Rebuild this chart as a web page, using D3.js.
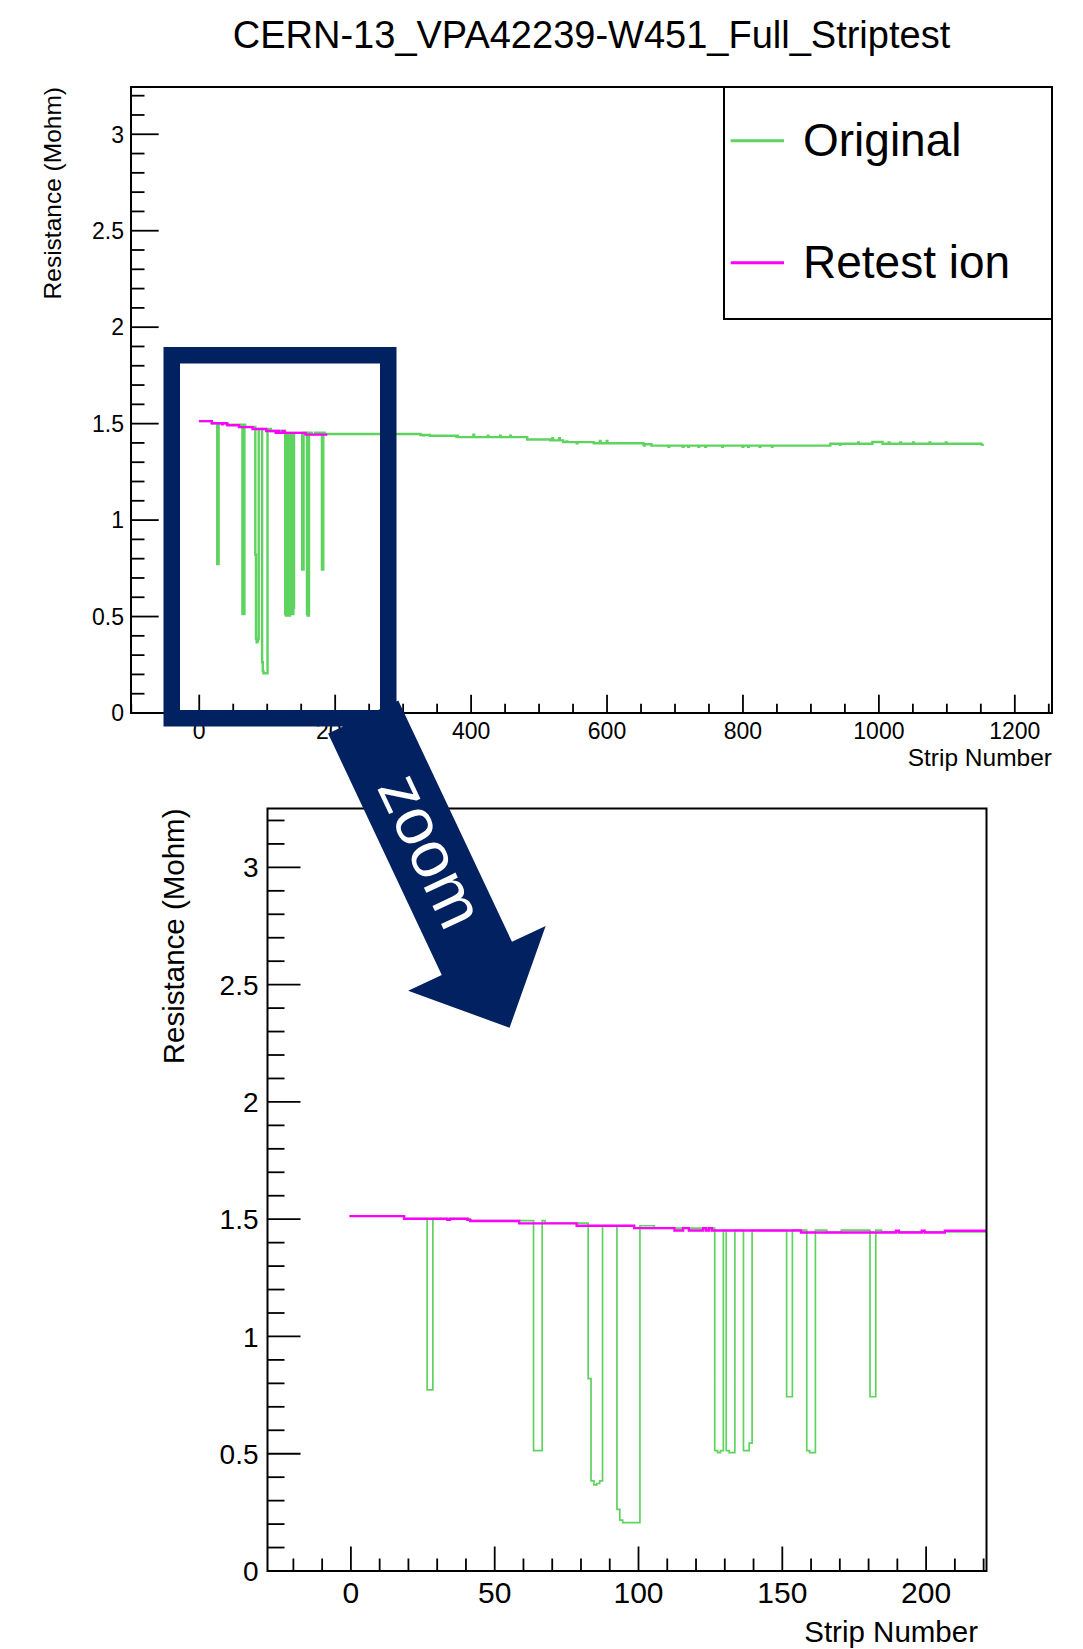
<!DOCTYPE html>
<html>
<head>
<meta charset="utf-8">
<script src="https://cdn.jsdelivr.net/npm/d3@7"></script>
<style>
  html, body { margin: 0; padding: 0; background: #fff; }
  svg { display: block; font-family: "Liberation Sans", Arial, Helvetica, sans-serif; }
</style>
</head>
<body>
<svg id="chart" width="1083" height="1649"></svg>
<script>
// ---- data ----
const chartTitle = 'CERN-13_VPA42239-W451_Full_Striptest';
const seriesNames = ['Original', 'Retest ion'];
const xTitle = 'Strip Number';
const yTitle = 'Resistance (Mohm)';

// [first strip, last strip, resistance (Mohm)]
const originalSegments = [
  [0, 18, 1.513], [19, 26, 1.502], [27, 28, 0.772], [29, 41, 1.502],
  [42, 63, 1.494], [64, 66, 0.513], [67, 67, 1.494], [68, 82, 1.483],
  [83, 83, 0.820], [84, 84, 0.384], [85, 85, 0.367], [86, 86, 0.373], [87, 87, 0.384],
  [88, 92, 1.472], [93, 93, 0.263], [94, 94, 0.217], [95, 100, 0.206],
  [101, 105, 1.472], [106, 126, 1.462],
  [127, 127, 0.513], [128, 128, 0.505], [129, 129, 0.513], [130, 130, 1.452],
  [131, 131, 0.513], [132, 133, 0.505], [134, 136, 1.452],
  [137, 138, 0.513], [139, 139, 0.545], [140, 151, 1.452],
  [152, 153, 0.743], [154, 158, 1.453],
  [159, 159, 0.513], [160, 161, 0.505], [162, 165, 1.453], [166, 170, 1.444],
  [171, 180, 1.453], [181, 182, 0.743], [183, 184, 1.453],
  [185, 325, 1.446], [326, 339, 1.441], [340, 380, 1.437], [381, 482, 1.430],
  [483, 516, 1.418], [517, 535, 1.413], [536, 580, 1.404], [581, 653, 1.398],
  [654, 665, 1.393], [666, 928, 1.386], [929, 990, 1.396], [991, 1005, 1.405],
  [1006, 1152, 1.396]
];

// single strips that stick out of the original baseline: [strip, value]
const originalBlips = [
  [330, 1.440], [379, 1.432], [404, 1.443], [425, 1.437], [443, 1.437], [458, 1.437],
  [520, 1.424], [530, 1.424], [541, 1.408], [556, 1.398], [590, 1.410], [600, 1.410],
  [655, 1.387], [691, 1.380], [712, 1.380], [720, 1.380], [735, 1.380], [745, 1.380],
  [770, 1.380], [800, 1.380], [808, 1.380], [825, 1.380], [843, 1.380],
  [943, 1.390], [970, 1.402], [1015, 1.402], [1032, 1.402], [1051, 1.402],
  [1075, 1.402], [1099, 1.402], [1152, 1.390]
];

const retestSegments = [
  [0, 18, 1.513], [19, 33, 1.502], [34, 34, 1.497], [35, 40, 1.502], [41, 41, 1.497],
  [42, 58, 1.492], [59, 78, 1.482], [79, 98, 1.472], [99, 112, 1.462],
  [113, 115, 1.452], [116, 117, 1.462], [118, 122, 1.452], [123, 123, 1.462],
  [124, 124, 1.452], [125, 125, 1.462], [126, 156, 1.452],
  [157, 189, 1.443], [190, 190, 1.451], [191, 198, 1.443], [199, 199, 1.451],
  [200, 206, 1.443], [207, 221, 1.451]
];
// in the full-range plot the retest curve stops here
const retestLastStripTop = 188;

const topXTicks = [0, 200, 400, 600, 800, 1000, 1200];
const bottomXTicks = [0, 50, 100, 150, 200];
const yTicks = [0, 0.5, 1, 1.5, 2, 2.5, 3];

// ---- drawing ----
const svg = d3.select('#chart');
const green = '#5fd35f';
const magenta = '#ff00ff';
const navy = '#022160';

svg.append('text')
  .attr('x', 591.5)
  .attr('y', 47.5)
  .attr('text-anchor', 'middle')
  .style('font-size', '38px')
  .text(chartTitle);

function stepPoints(segments) {
  const pts = segments.map(s => [s[0] - 0.5, s[2]]);
  const last = segments[segments.length - 1];
  pts.push([last[1] + 0.5, last[2]]);
  return pts;
}

function drawPanel(cfg) {
  const x = d3.scaleLinear().domain(cfg.xDomain).range([cfg.left, cfg.right]);
  const y = d3.scaleLinear().domain(cfg.yDomain).range([cfg.bottom, cfg.top]);
  const g = svg.append('g').attr('class', cfg.id);

  g.append('clipPath').attr('id', cfg.id + '-clip')
    .append('rect')
    .attr('x', cfg.left).attr('y', cfg.top)
    .attr('width', cfg.right - cfg.left).attr('height', cfg.bottom - cfg.top);

  const plot = g.append('g').attr('clip-path', `url(#${cfg.id}-clip)`);
  const line = d3.line()
    .x(d => x(d[0]))
    .y(d => y(d[1]))
    .curve(d3.curveStepAfter);

  plot.append('path')
    .datum(stepPoints(originalSegments))
    .attr('d', line)
    .attr('fill', 'none')
    .attr('stroke', green)
    .attr('stroke-width', cfg.greenWidth);

  // blips on top of the original baseline
  originalBlips.forEach(b => {
    const seg = originalSegments.find(s => b[0] >= s[0] && b[0] <= s[1]);
    if (!seg) return;
    plot.append('path')
      .datum([[b[0] - 0.5, seg[2]], [b[0] - 0.5, b[1]], [b[0] + 0.5, b[1]], [b[0] + 0.5, seg[2]]])
      .attr('d', d3.line().x(d => x(d[0])).y(d => y(d[1])))
      .attr('fill', 'none')
      .attr('stroke', green)
      .attr('stroke-width', cfg.greenWidth);
  });

  const retest = retestSegments
    .filter(s => s[0] <= cfg.retestLast)
    .map(s => [s[0], Math.min(s[1], cfg.retestLast), s[2]]);
  plot.append('path')
    .datum(stepPoints(retest))
    .attr('d', line)
    .attr('fill', 'none')
    .attr('stroke', magenta)
    .attr('stroke-width', cfg.magentaWidth);

  // frame
  g.append('rect')
    .attr('x', cfg.left).attr('y', cfg.top)
    .attr('width', cfg.right - cfg.left).attr('height', cfg.bottom - cfg.top)
    .attr('fill', 'none')
    .attr('stroke', '#000')
    .attr('stroke-width', 2);

  // x ticks (inward)
  const xMinor = d3.range(Math.ceil(cfg.xDomain[0] / cfg.xMinorStep) * cfg.xMinorStep,
    cfg.xDomain[1], cfg.xMinorStep);
  xMinor.forEach(v => {
    const major = cfg.xTicks.includes(v) || v % cfg.xMajorStep === 0;
    g.append('line')
      .attr('x1', x(v)).attr('x2', x(v))
      .attr('y1', cfg.bottom).attr('y2', cfg.bottom - (major ? cfg.xMajorLen : cfg.xMinorLen))
      .attr('stroke', '#000').attr('stroke-width', 1.8);
  });
  cfg.xTicks.forEach(v => {
    g.append('text')
      .attr('x', x(v)).attr('y', cfg.xLabelY)
      .attr('text-anchor', 'middle')
      .style('font-size', cfg.labelSize + 'px')
      .text(v);
  });

  // y ticks (inward)
  const yMinor = d3.range(0, Math.round(cfg.yDomain[1] * 10) + 1).map(i => i / 10)
    .filter(v => v <= cfg.yDomain[1]);
  yMinor.forEach(v => {
    const major = yTicks.some(t => Math.abs(t - v) < 1e-6);
    g.append('line')
      .attr('x1', cfg.left).attr('x2', cfg.left + (major ? cfg.yMajorLen : cfg.yMinorLen))
      .attr('y1', y(v)).attr('y2', y(v))
      .attr('stroke', '#000').attr('stroke-width', 1.8);
  });
  yTicks.forEach(v => {
    g.append('text')
      .attr('x', cfg.left - cfg.yLabelGap).attr('y', y(v))
      .attr('dy', '0.36em')
      .attr('text-anchor', 'end')
      .style('font-size', cfg.yLabelSize + 'px')
      .text(v);
  });

  // axis titles
  g.append('text')
    .attr('x', cfg.right - cfg.xTitleInset).attr('y', cfg.xTitleY)
    .attr('text-anchor', 'end')
    .style('font-size', cfg.titleSize + 'px')
    .text(xTitle);

  g.append('text')
    .attr('transform', `translate(${cfg.yTitleX},${cfg.top}) rotate(-90)`)
    .attr('text-anchor', 'end')
    .style('font-size', cfg.titleSize + 'px')
    .text(yTitle);

  return { x, y, g };
}

// full range panel
drawPanel({
  id: 'top',
  left: 131, right: 1052, top: 87, bottom: 713,
  xDomain: [-100.4, 1254.7], yDomain: [0, 3.245],
  xTicks: topXTicks, xMajorStep: 200, xMinorStep: 50,
  xMajorLen: 18.3, xMinorLen: 9.3, yMajorLen: 27.7, yMinorLen: 13.5,
  xLabelY: 739, labelSize: 23, yLabelSize: 23, yLabelGap: 7,
  xTitleY: 765.5, xTitleInset: 0, titleSize: 24.5, yTitleX: 61,
  greenWidth: 2.4, magentaWidth: 2.4,
  retestLast: retestLastStripTop
});

// zoomed panel
drawPanel({
  id: 'bottom',
  left: 267.5, right: 986.5, top: 808.5, bottom: 1571,
  xDomain: [-29.0, 221.0], yDomain: [0, 3.251],
  xTicks: bottomXTicks, xMajorStep: 50, xMinorStep: 10,
  xMajorLen: 24.5, xMinorLen: 12.5, yMajorLen: 33, yMinorLen: 17,
  xLabelY: 1602.5, labelSize: 30, yLabelSize: 28, yLabelGap: 9,
  xTitleY: 1642, xTitleInset: 8.5, titleSize: 29.5, yTitleX: 184,
  greenWidth: 1.7, magentaWidth: 2.4,
  retestLast: retestSegments[retestSegments.length - 1][1]
});

// legend
const legend = svg.append('g').attr('class', 'legend');
legend.append('rect')
  .attr('x', 724).attr('y', 87).attr('width', 328).attr('height', 232)
  .attr('fill', '#fff').attr('stroke', '#000').attr('stroke-width', 2);
[green, magenta].forEach((c, i) => {
  const ly = 140.7 + i * 122;
  legend.append('line')
    .attr('x1', 730.7).attr('x2', 784)
    .attr('y1', ly).attr('y2', ly)
    .attr('stroke', c).attr('stroke-width', 3);
  legend.append('text')
    .attr('x', 803).attr('y', ly + 15.5)
    .style('font-size', '46px')
    .text(seriesNames[i]);
});

// zoom box + arrow annotation
svg.append('rect')
  .attr('x', 171.75).attr('y', 355.25).attr('width', 216.5).attr('height', 363)
  .attr('fill', 'none').attr('stroke', navy).attr('stroke-width', 16.5);

const shaftLen = 266.8, shaftHalf = 38.8, headHalf = 76, headLen = 76.7;
const arrow = svg.append('g')
  .attr('transform', 'translate(363.2,717) rotate(64.78)');
arrow.append('path')
  .attr('d', d3.line()([
    [0, -shaftHalf], [shaftLen, -shaftHalf], [shaftLen, -headHalf],
    [shaftLen + headLen, 0], [shaftLen, headHalf], [shaftLen, shaftHalf], [0, shaftHalf]
  ]) + 'Z')
  .attr('fill', navy);
arrow.append('text')
  .attr('x', 150).attr('y', 0)
  .attr('dy', '0.27em')
  .attr('text-anchor', 'middle')
  .attr('fill', '#fff')
  .style('font-size', '66px')
  .text('zoom');
</script>
</body>
</html>
